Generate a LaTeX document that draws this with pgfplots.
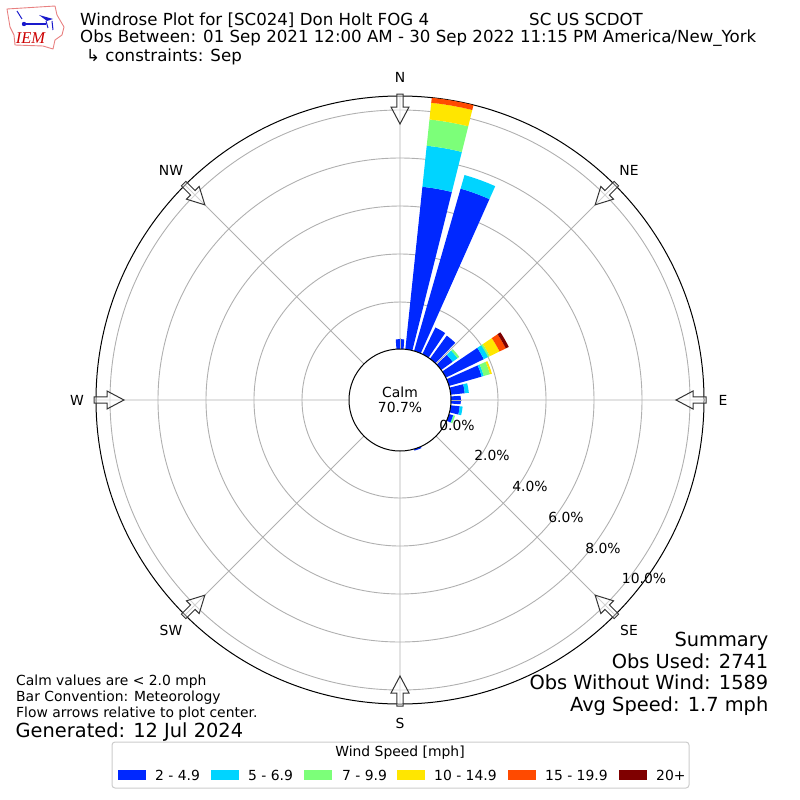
\documentclass[border=0pt]{standalone}
\usepackage{pgfplots}
\usepackage{fontspec}
\setmainfont{DejaVu Sans}
\newfontfamily\logofont{Liberation Serif}
\pgfplotsset{compat=1.18}
\usepgfplotslibrary{polar}
\definecolor{ws1}{HTML}{0028FF}
\definecolor{ws2}{HTML}{00D4FF}
\definecolor{ws3}{HTML}{7CFF79}
\definecolor{ws4}{HTML}{FFE600}
\definecolor{ws5}{HTML}{FF4A00}
\definecolor{ws6}{HTML}{7F0000}
\definecolor{gridc}{HTML}{B0B0B0}
\definecolor{arrowc}{HTML}{333333}
\definecolor{logored}{HTML}{E88080}
\definecolor{logoblue}{HTML}{1A1ACC}
% dir (deg, met. convention), lower and upper cumulative frequency (%), colour
\newcommand{\seg}[4]{%
  \pgfmathsetmacro\ta{90-(#1)+4}\pgfmathsetmacro\tb{90-(#1)+2}\pgfmathsetmacro\tc{90-(#1)}%
  \pgfmathsetmacro\td{90-(#1)-2}\pgfmathsetmacro\te{90-(#1)-4}%
  \pgfmathsetmacro\rl{#2+2.0833}\pgfmathsetmacro\rh{#3+2.0833}%
  \addplot[fill=#4,draw=none,forget plot] coordinates {(\ta,\rl)(\tb,\rl)(\tc,\rl)(\td,\rl)(\te,\rl)(\te,\rh)(\td,\rh)(\tc,\rh)(\tb,\rh)(\ta,\rh)} -- cycle;%
}
\newcommand{\windarrow}[1]{%
  \draw[rotate around={#1:(400,400)},draw=arrowc,fill=white,fill opacity=0.45,line width=1pt,line join=miter]
    (400,124) -- (391,107) -- (396.8,107) -- (396.8,94) -- (403.2,94) -- (403.2,107) -- (409,107) -- cycle;%
}
\begin{document}
\begin{tikzpicture}
\begin{polaraxis}[
  at={(400pt,-400pt)},anchor=center,scale only axis,width=608pt,height=608pt,
  xmin=0,xmax=360,ymin=0,ymax=12.6667,
  xtick={0,45,...,315},xticklabels={},
  ytick={4.0833,6.0833,8.0833,10.0833,12.0833},yticklabels={},
  major tick length=0pt,
  xmajorgrids,ymajorgrids,
  grid style={gridc,line width=0.9pt},
  y axis line style={draw=none},
  x axis line style={black,line width=1pt},
  clip=true,
]
\seg{0}{0}{0.45}{ws1}
\seg{10}{0}{6.85}{ws1}\seg{10}{6.85}{8.57}{ws2}\seg{10}{8.57}{9.67}{ws3}\seg{10}{9.67}{10.37}{ws4}\seg{10}{10.37}{10.58}{ws5}
\seg{20}{0}{7.08}{ws1}\seg{20}{7.08}{7.67}{ws2}
\seg{30}{0}{1.28}{ws1}
\seg{40}{0}{1.23}{ws1}
\seg{50}{0}{0.63}{ws1}\seg{50}{0.63}{0.88}{ws2}\seg{50}{0.88}{0.97}{ws3}
\seg{60}{0}{1.80}{ws1}\seg{60}{1.80}{2.00}{ws2}\seg{60}{2.00}{2.08}{ws3}\seg{60}{2.08}{2.53}{ws4}\seg{60}{2.53}{2.82}{ws5}\seg{60}{2.82}{2.96}{ws6}
\seg{70}{0}{1.46}{ws1}\seg{70}{1.46}{1.55}{ws2}\seg{70}{1.55}{1.82}{ws3}\seg{70}{1.82}{1.90}{ws4}
\seg{80}{0}{0.63}{ws1}\seg{80}{0.63}{0.80}{ws2}
\seg{90}{0}{0.45}{ws1}
\seg{100}{0}{0.42}{ws1}\seg{100}{0.42}{0.54}{ws2}
\seg{110}{0}{0.22}{ws1}\seg{110}{0.22}{0.24}{ws2}\seg{110}{0.24}{0.30}{ws3}
\seg{160}{0}{0.11}{ws1}
\addplot[gridc,line width=0.9pt,forget plot] coordinates {(90,2)(90,2.6)};
\addplot[gridc,line width=0.9pt,forget plot] coordinates {(0,2)(0,2.6)};
\end{polaraxis}
\begin{scope}[x=1pt,y=-1pt]
\path[use as bounding box] (0,0) rectangle (800,800);
% calm circle
\draw[black,fill=white,line width=1pt] (400,400) circle[radius=51];
\node[align=center,font=\fontsize{13.9}{15.5}\selectfont] at (400,400) {Calm\\70.7\%};
% flow arrows
\foreach \a in {0,45,...,315}{\windarrow{\a}}
% compass labels
\begin{scope}[every node/.style={font=\fontsize{13.9}{16}\selectfont}]
\node at (400,77) {N};\node at (629,170) {NE};\node at (723,400) {E};\node at (629,630) {SE};
\node at (400,723) {S};\node at (171,630) {SW};\node at (77,400) {W};\node at (171,170) {NW};
\node at (457,425) {0.0\%};\node at (492,455) {2.0\%};\node at (530,486) {4.0\%};
\node at (566,517) {6.0\%};\node at (603,548) {8.0\%};\node at (644,578) {10.0\%};
\end{scope}
% titles
\begin{scope}[every node/.style={font=\fontsize{16.63}{18}\selectfont,anchor=base west,inner sep=0pt}]
\node at (80,25.5) {Windrose Plot for [SC024] Don Holt FOG 4};
\node at (529,25.5) {SC US SCDOT};
\node at (80,42.5) {Obs Between: 01 Sep 2021 12:00 AM - 30 Sep 2022 11:15 PM America/New\_York};
\node at (86,61.5) {↳ constraints: Sep};
\end{scope}
% left notes
\begin{scope}[every node/.style={font=\fontsize{13.9}{16}\selectfont,anchor=base west,inner sep=0pt}]
\node at (16,685) {Calm values are < 2.0 mph};
\node at (16,701) {Bar Convention: Meteorology};
\node at (16,717) {Flow arrows relative to plot center.};
\node[font=\fontsize{19.4}{22}\selectfont] at (15.5,737) {Generated: 12 Jul 2024};
\end{scope}
% summary
\begin{scope}[every node/.style={font=\fontsize{19.4}{22}\selectfont,anchor=base east,inner sep=0pt}]
\node at (768.5,646.5) {Summary};
\node at (768.5,668.5) {Obs Used: 2741};
\node at (768.5,689.5) {Obs Without Wind: 1589};
\node at (768.5,711.5) {Avg Speed: 1.7 mph};
\end{scope}
% legend
\draw[draw=black!20,fill=white,rounded corners=3pt,line width=1pt] (112,742) rectangle (689,788);
\node[font=\fontsize{13.9}{16}\selectfont] at (400,753) {Wind Speed [mph]};
\fill[ws1] (118,770) rectangle (146,780);
\fill[ws2] (210.5,770) rectangle (238.5,780);
\fill[ws3] (304,770) rectangle (332,780);
\fill[ws4] (396.5,770) rectangle (424.5,780);
\fill[ws5] (507.5,770) rectangle (535.5,780);
\fill[ws6] (618.5,770) rectangle (646.5,780);
\begin{scope}[every node/.style={font=\fontsize{13.9}{16}\selectfont,anchor=base west,inner sep=0pt}]
\node at (155,780) {2 - 4.9};\node at (248,780) {5 - 6.9};\node at (342,780) {7 - 9.9};
\node at (434,780) {10 - 14.9};\node at (545,780) {15 - 19.9};\node at (656,780) {20+};
\end{scope}
% IEM logo
\draw[logored,line width=0.9pt,line join=round] (7,9) -- (55,6) -- (57,15) -- (64,27) -- (62,35) -- (55,40) -- (53,49) -- (43,46) -- (15,45) -- (14,35) -- (10,27) -- cycle;
\draw[logoblue,line width=1.6pt] (26,24) -- (46,24);
\draw[logoblue,line width=1pt] (46,21) -- (48,28) (52,21) -- (53,30) (17,11) -- (22,19);
\fill[logoblue] (24,24) circle[radius=2.2] (39,15) -- (53,19) -- (47,21) -- cycle;
\node[font=\logofont\itshape\fontsize{16.5}{18}\selectfont,text=red!80!black] at (30.5,38) {IEM};
\end{scope}
\end{tikzpicture}
\end{document}
